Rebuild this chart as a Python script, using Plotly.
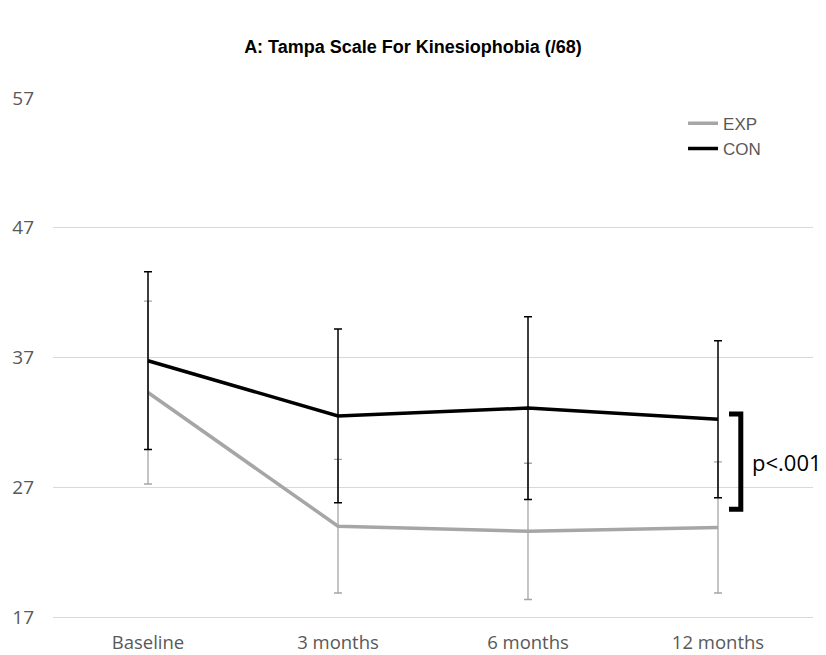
import plotly.graph_objects as go

categories = ["Baseline", "3 months", "6 months", "12 months"]
exp_mean = [34.3, 24.0, 23.6, 23.9]
exp_sd = [7.05, 5.15, 5.25, 5.05]
con_mean = [36.75, 32.5, 33.1, 32.25]
con_sd = [6.85, 6.7, 7.05, 6.05]
y_ticks = [17, 27, 37, 47, 57]
p_text = "p<.001"
bracket_y = [32.65, 25.3]

fig = go.Figure()
fig.add_trace(go.Scatter(
    x=categories, y=exp_mean, name="EXP", mode="lines",
    line=dict(color="#A6A6A6", width=3.5),
    error_y=dict(type="data", array=exp_sd, color="#A6A6A6", thickness=1.3, width=4),
))
fig.add_trace(go.Scatter(
    x=categories, y=con_mean, name="CON", mode="lines",
    line=dict(color="#000000", width=3.5),
    error_y=dict(type="data", array=con_sd, color="#000000", thickness=1.5, width=4),
))

# significance bracket
bx0, bx1 = 3.058, 3.12
fig.add_shape(type="path", xref="x", yref="y",
              path=f"M {bx0} {bracket_y[0]} L {bx1} {bracket_y[0]} L {bx1} {bracket_y[1]} L {bx0} {bracket_y[1]}",
              line=dict(color="#000000", width=5))
fig.add_annotation(x=3.17, y=(bracket_y[0] + bracket_y[1]) / 2, xref="x", yref="y",
                   text=p_text, showarrow=False, xanchor="left", yanchor="middle",
                   font=dict(family="Open Sans", size=22, color="#000000"))

# page body has an 8px default margin; figure sized to fit the viewport
W, H = 818, 647
fig.update_layout(
    width=W, height=H,
    margin=dict(l=45, r=13, t=90, b=38),
    paper_bgcolor="white", plot_bgcolor="white",
    title=dict(text="<b>A: Tampa Scale For Kinesiophobia (/68)</b>",
               x=(413 - 8) / W, xanchor="center", y=1 - 39 / H, yanchor="middle", yref="container",
               font=dict(family="Liberation Sans, Arial", size=18, color="#000000")),
    legend=dict(x=0.829, y=0.985, xanchor="left", yanchor="top",
                bgcolor="rgba(0,0,0,0)", tracegroupgap=0,
                font=dict(family="Liberation Sans, Arial", size=17, color="#595959"),
                itemwidth=30),
    showlegend=True,
)
fig.update_xaxes(type="category", showgrid=False, showline=True, linecolor="#D9D9D9",
                 linewidth=1, ticks="", ticklabelstandoff=9, automargin=False,
                 tickfont=dict(family="Open Sans", size=18.5, color="#595959"),
                 range=[-0.5, 3.5])
fig.update_yaxes(range=[17, 57], tickvals=y_ticks, showgrid=True, gridcolor="#D9D9D9",
                 gridwidth=1, zeroline=False, showline=False, ticks="",
                 ticklabelstandoff=18, automargin=False,
                 tickfont=dict(family="Open Sans", size=19, color="#595959"))

fig.write_html("out.html")
